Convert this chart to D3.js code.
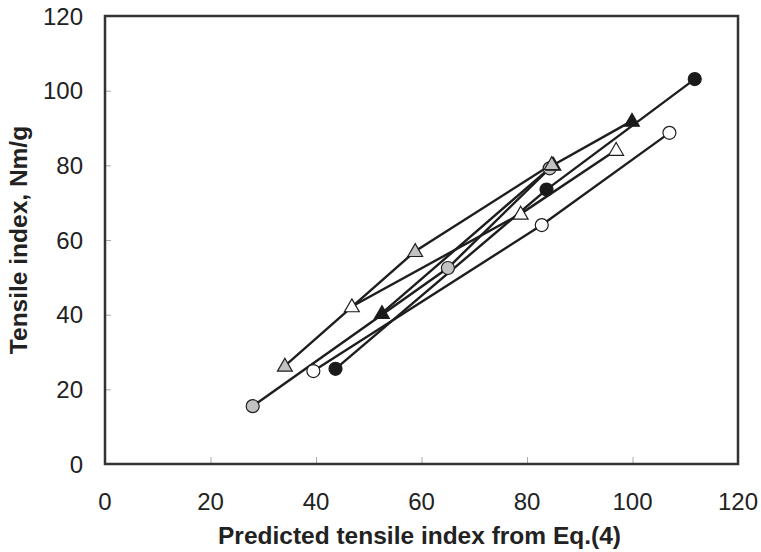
<!DOCTYPE html>
<html><head><meta charset="utf-8">
<script src="https://cdn.jsdelivr.net/npm/d3@7"></script>
<style>body{margin:0;background:#fff}</style>
</head><body>
<script>
const xTicks = [0,20,40,60,80,100,120];
const yTicks = [0,20,40,60,80,100,120];
const xLabel = "Predicted tensile index from Eq.(4)";
const yLabel = "Tensile index, Nm/g";

const grayCircleX = [28, 65, 84.3];
const grayCircleY = [15.5, 52.5, 79.2];
const openCircleX = [39.5, 82.8, 107];
const openCircleY = [24.9, 64, 88.7];
const blackCircleX = [43.7, 83.7, 111.8];
const blackCircleY = [25.5, 73.5, 103.1];
const openTriX = [46.8, 78.8, 96.9];
const openTriY = [42.2, 67, 84.1];
const blackTriX = [52.5, 85, 99.9];
const blackTriY = [40.4, 80.1, 91.9];
const grayTriX = [34.1, 58.8, 84.7];
const grayTriY = [26.3, 57, 80.3];

const series = [
  {x: grayCircleX, y: grayCircleY, shape: "circle", fill: "#c2c2c2"},
  {x: openCircleX, y: openCircleY, shape: "circle", fill: "#ffffff"},
  {x: blackCircleX, y: blackCircleY, shape: "circle", fill: "#1a1a1a"},
  {x: openTriX, y: openTriY, shape: "triangle", fill: "#ffffff"},
  {x: blackTriX, y: blackTriY, shape: "triangle", fill: "#1a1a1a"},
  {x: grayTriX, y: grayTriY, shape: "triangle", fill: "#c2c2c2"}
];

const W = 761, H = 552;
const m = {left: 105, right: 738, top: 16, bottom: 464};
const svg = d3.select("body").append("svg").attr("width", W).attr("height", H);

const x = d3.scaleLinear().domain([0,120]).range([m.left, m.right]);
const y = d3.scaleLinear().domain([0,120]).range([m.bottom, m.top]);

// inward ticks
const xAxis = svg.append("g").attr("transform", `translate(0,${m.bottom})`)
  .call(d3.axisTop(x).tickValues(xTicks).tickSize(7).tickFormat(""));
xAxis.select(".domain").remove();
xAxis.selectAll("line").attr("stroke", "#aaa").attr("stroke-width", 1);
const yAxis = svg.append("g").attr("transform", `translate(${m.left},0)`)
  .call(d3.axisRight(y).tickValues(yTicks).tickSize(6).tickFormat(""));
yAxis.select(".domain").remove();
yAxis.selectAll("line").attr("stroke", "#aaa").attr("stroke-width", 1);

// tick labels
svg.append("g").selectAll("text").data(xTicks).join("text")
  .attr("x", d => x(d)).attr("y", 510)
  .attr("text-anchor", "middle")
  .attr("font-family", "Liberation Sans, Arial, sans-serif")
  .attr("font-size", 24).attr("fill", "#222")
  .text(d => d);
svg.append("g").selectAll("text").data(yTicks).join("text")
  .attr("x", 83).attr("y", d => y(d)).attr("dy", "0.36em")
  .attr("text-anchor", "end")
  .attr("font-family", "Liberation Sans, Arial, sans-serif")
  .attr("font-size", 24).attr("fill", "#222")
  .text(d => d);

// axis titles
svg.append("text").attr("x", (m.left + m.right)/2 - 2).attr("y", 544)
  .attr("text-anchor", "middle")
  .attr("font-family", "Liberation Sans, Arial, sans-serif")
  .attr("font-size", 24.5).attr("font-weight", "bold").attr("fill", "#222")
  .text(xLabel);
svg.append("text").attr("transform", `translate(27,${(m.top + m.bottom)/2}) rotate(-90)`)
  .attr("text-anchor", "middle")
  .attr("font-family", "Liberation Sans, Arial, sans-serif")
  .attr("font-size", 24.5).attr("font-weight", "bold").attr("fill", "#222")
  .text(yLabel);

// frame
svg.append("rect").attr("x", m.left).attr("y", m.top)
  .attr("width", m.right - m.left).attr("height", m.bottom - m.top)
  .attr("fill", "none").attr("stroke", "#333").attr("stroke-width", 2.5);

const line = d3.line().x(d => x(d[0])).y(d => y(d[1]));
series.forEach(s => {
  const pts = s.x.map((v, i) => [v, s.y[i]]);
  svg.append("path").datum(pts).attr("d", line)
    .attr("fill", "none").attr("stroke", "#1e1e1e").attr("stroke-width", 2.4);
});
const tri = d3.symbol().type(d3.symbolTriangle).size(95);
series.forEach(s => {
  const pts = s.x.map((v, i) => [v, s.y[i]]);
  const g = svg.append("g");
  if (s.shape === "circle") {
    g.selectAll("circle").data(pts).join("circle")
      .attr("cx", d => x(d[0])).attr("cy", d => y(d[1])).attr("r", 6.5)
      .attr("fill", s.fill).attr("stroke", "#1e1e1e").attr("stroke-width", 1.2);
  } else {
    g.selectAll("path").data(pts).join("path")
      .attr("d", tri)
      .attr("transform", d => `translate(${x(d[0])},${y(d[1]) + 1})`)
      .attr("fill", s.fill).attr("stroke", "#1e1e1e").attr("stroke-width", 1.2);
  }
});
</script>
</body></html>
